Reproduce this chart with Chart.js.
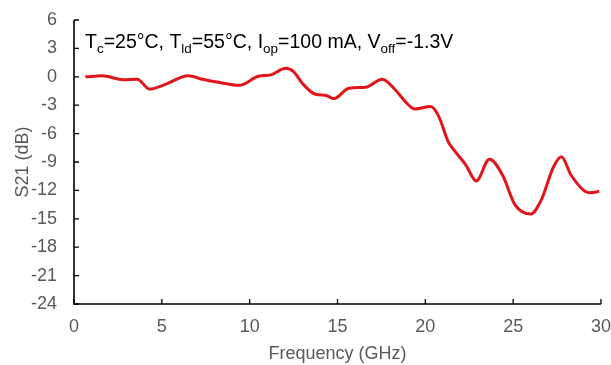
<!DOCTYPE html>
<html>
<head>
<meta charset="utf-8">
<script src="https://cdn.jsdelivr.net/npm/chart.js@4.4.1/dist/chart.umd.min.js"></script>
<style>
  html, body { margin: 0; padding: 0; background: #fff; }
  #wrap { width: 611px; height: 365px; }
</style>
</head>
<body>
<div id="wrap"><canvas id="s21Chart" width="611" height="365"></canvas></div>
<script>
// values
const freqGHz = [0.65, 1.6, 2.8, 3.6, 4.3, 5.2, 6.5, 7.3, 8.3, 9.4, 10.5, 11.2, 12.05, 12.5, 13.0, 13.75, 14.3, 14.8, 15.65, 16.6, 17.55, 18.3, 18.9, 19.4, 20.3, 20.77, 21.3, 21.7, 22.3, 22.9, 23.65, 24.4, 25.1, 26.0, 26.6, 27.3, 27.75, 28.3, 29.35, 29.9];
const s21dB = [0, 0.1, -0.3, -0.25, -1.3, -0.8, 0.1, -0.25, -0.6, -0.9, 0.05, 0.2, 0.9, 0.55, -0.7, -1.85, -1.95, -2.3, -1.2, -1.1, -0.25, -1.4, -2.7, -3.4, -3.15, -4.2, -6.85, -7.9, -9.3, -11.0, -8.7, -10.4, -13.5, -14.5, -13.0, -9.5, -8.45, -10.4, -12.25, -12.1];
const xTicks = [0, 5, 10, 15, 20, 25, 30];
const yTicks = [6, 3, 0, -3, -6, -9, -12, -15, -18, -21, -24];

// condition label, pieces with sub: true are drawn as subscripts
const conditionText = [
    { t: 'T' }, { t: 'c', sub: true }, { t: '=25°C, T' }, { t: 'ld', sub: true },
    { t: '=55°C, I' }, { t: 'op', sub: true }, { t: '=100 mA, V' }, { t: 'off', sub: true },
    { t: '=-1.3V' }
];

const FONT = "'Liberation Sans', Arial, sans-serif";

const axesPlugin = {
    id: 'axesPlugin',
    afterDraw(chart) {
        const ctx = chart.ctx;
        const { left, right, top, bottom } = chart.chartArea;
        const xs = chart.scales.x;
        const ys = chart.scales.y;
        ctx.save();
        ctx.strokeStyle = '#000';
        ctx.lineWidth = 1.6;
        ctx.beginPath();
        ctx.moveTo(left, top);
        ctx.lineTo(left, bottom);
        ctx.lineTo(right, bottom);
        ctx.stroke();
        ctx.lineWidth = 1.3;
        ctx.beginPath();
        yTicks.forEach(v => {
            const py = ys.getPixelForValue(v);
            ctx.moveTo(left, py);
            ctx.lineTo(left + 5, py);
        });
        xTicks.forEach(v => {
            const px = xs.getPixelForValue(v);
            ctx.moveTo(px, bottom);
            ctx.lineTo(px, bottom - 5);
        });
        ctx.stroke();

        // condition text with subscripts
        let x = left + 11;
        const baseline = top + 28;
        ctx.fillStyle = '#000';
        ctx.textBaseline = 'alphabetic';
        conditionText.forEach(p => {
            ctx.font = (p.sub ? '13.5px ' : '19.5px ') + FONT;
            ctx.fillText(p.t, x, p.sub ? baseline + 5 : baseline);
            x += ctx.measureText(p.t).width;
        });
        ctx.restore();
    }
};

// invisible grid, only used so the tick length pushes the labels away from the axis
function hiddenGrid(len) {
    return {
        display: true,
        drawOnChartArea: false,
        drawTicks: true,
        tickLength: len,
        color: 'rgba(0,0,0,0)'
    };
}

function createS21Chart() {
    const ctx = document.getElementById('s21Chart').getContext('2d');
    new Chart(ctx, {
        type: 'line',
        data: {
            datasets: [{
                label: 'S21',
                data: freqGHz.map((f, i) => ({ x: f, y: s21dB[i] })),
                borderColor: '#e0161b',
                borderWidth: 3,
                pointRadius: 0,
                fill: false,
                cubicInterpolationMode: 'monotone'
            }]
        },
        options: {
            responsive: false,
            animation: false,
            layout: {
                padding: { left: 0, right: 0, top: 20, bottom: 0 }
            },
            plugins: {
                legend: { display: false },
                tooltip: { enabled: false }
            },
            scales: {
                x: {
                    type: 'linear',
                    min: 0,
                    max: 30,
                    afterBuildTicks: scale => { scale.ticks = xTicks.map(v => ({ value: v })); },
                    grid: hiddenGrid(12),
                    border: { display: false },
                    ticks: {
                        color: '#595959',
                        font: { family: FONT, size: 18 },
                        padding: 0,
                        maxRotation: 0
                    },
                    title: {
                        display: true,
                        text: 'Frequency (GHz)',
                        color: '#595959',
                        font: { family: FONT, size: 18 },
                        padding: { top: 1, bottom: 0 }
                    },
                    afterFit: scale => { scale.height = 61; }
                },
                y: {
                    type: 'linear',
                    min: -24,
                    max: 6,
                    afterBuildTicks: scale => { scale.ticks = yTicks.map(v => ({ value: v })); },
                    grid: hiddenGrid(17),
                    border: { display: false },
                    ticks: {
                        color: '#595959',
                        font: { family: FONT, size: 18 },
                        padding: 0
                    },
                    title: {
                        display: true,
                        text: 'S21 (dB)',
                        color: '#595959',
                        font: { family: FONT, size: 18 },
                        padding: { top: 12, bottom: 0 }
                    },
                    afterFit: scale => { scale.width = 74; }
                }
            }
        },
        plugins: [axesPlugin]
    });
}

document.addEventListener('DOMContentLoaded', createS21Chart);
</script>
</body>
</html>
